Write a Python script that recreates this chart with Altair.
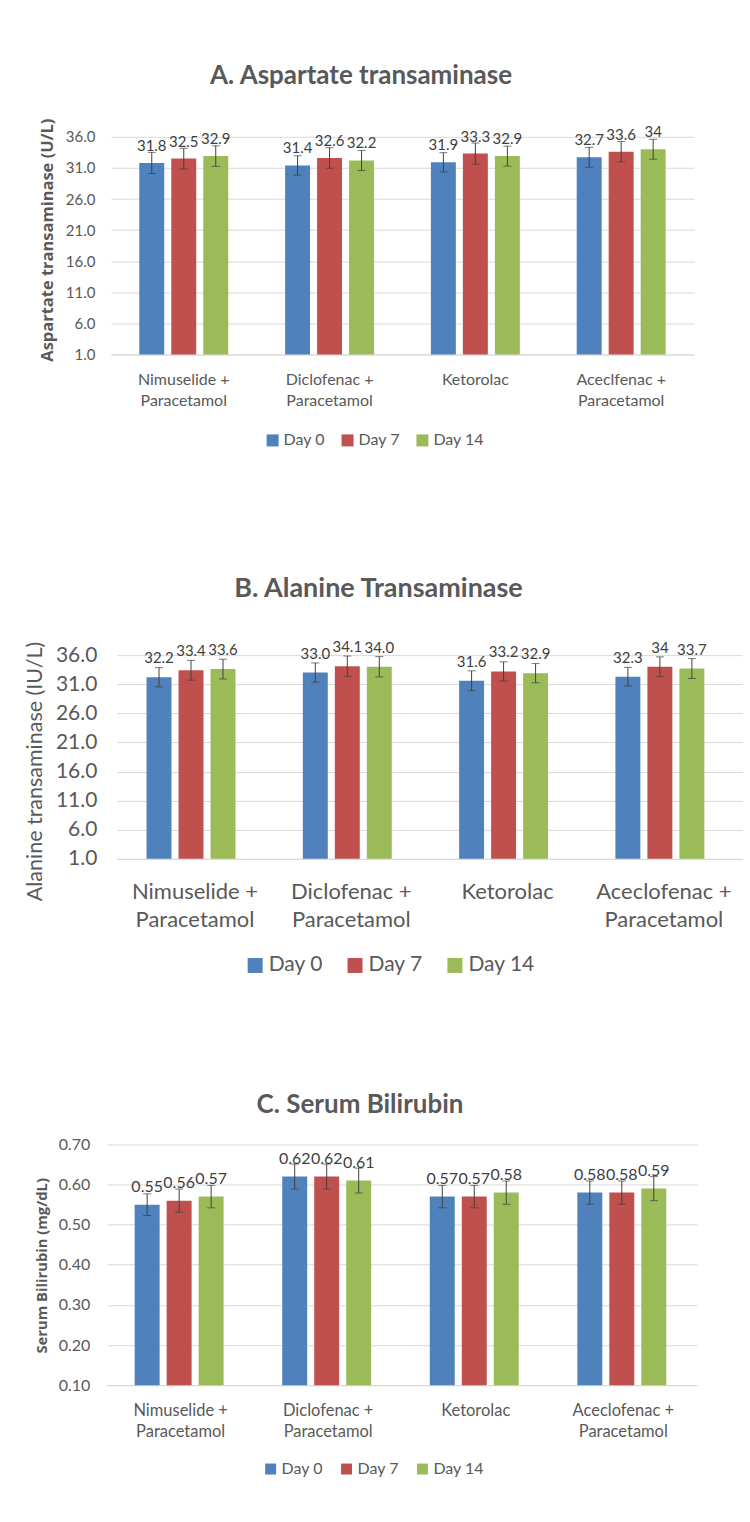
import altair as alt
import pandas as pd

DAYS = ["Day 0", "Day 7", "Day 14"]
DAY_COLORS = ["#4F81BD", "#C0504D", "#9BBB59"]

# A. Aspartate transaminase (U/L)
AST_GROUPS = ["Nimuselide + Paracetamol", "Diclofenac + Paracetamol", "Ketorolac", "Aceclfenac + Paracetamol"]
AST_DAY0 = ["31.8", "31.4", "31.9", "32.7"]
AST_DAY7 = ["32.5", "32.6", "33.3", "33.6"]
AST_DAY14 = ["32.9", "32.2", "32.9", "34"]
AST_ERR_DAY0 = [1.7, 1.55, 1.55, 1.6]
AST_ERR_DAY7 = [1.65, 1.65, 1.7, 1.65]
AST_ERR_DAY14 = [1.65, 1.6, 1.6, 1.6]
AST_TICKS = [1.0, 6.0, 11.0, 16.0, 21.0, 26.0, 31.0, 36.0]

# B. Alanine transaminase (IU/L)
ALT_GROUPS = ["Nimuselide + Paracetamol", "Diclofenac + Paracetamol", "Ketorolac", "Aceclofenac + Paracetamol"]
ALT_DAY0 = ["32.2", "33.0", "31.6", "32.3"]
ALT_DAY7 = ["33.4", "34.1", "33.2", "34"]
ALT_DAY14 = ["33.6", "34.0", "32.9", "33.7"]
ALT_ERR_DAY0 = [1.65, 1.65, 1.7, 1.6]
ALT_ERR_DAY7 = [1.7, 1.75, 1.65, 1.7]
ALT_ERR_DAY14 = [1.7, 1.75, 1.65, 1.7]
ALT_TICKS = [1.0, 6.0, 11.0, 16.0, 21.0, 26.0, 31.0, 36.0]

# C. Serum bilirubin (mg/dL)
BIL_GROUPS = ["Nimuselide + Paracetamol", "Diclofenac + Paracetamol", "Ketorolac", "Aceclofenac + Paracetamol"]
BIL_DAY0 = ["0.55", "0.62", "0.57", "0.58"]
BIL_DAY7 = ["0.56", "0.62", "0.57", "0.58"]
BIL_DAY14 = ["0.57", "0.61", "0.58", "0.59"]
BIL_ERR_DAY0 = [0.027, 0.031, 0.028, 0.029]
BIL_ERR_DAY7 = [0.029, 0.031, 0.028, 0.029]
BIL_ERR_DAY14 = [0.028, 0.031, 0.029, 0.030]
BIL_TICKS = [0.1, 0.2, 0.3, 0.4, 0.5, 0.6, 0.7]

FONT = "Lato"
TEXT_GREY = "#595959"
GRID_GREY = "#D9D9D9"
INK = "#404040"


def table(groups, series, errors):
    rows = []
    for day, labels, errs in zip(DAYS, series, errors):
        for g, lab, e in zip(groups, labels, errs):
            v = float(lab)
            rows.append(dict(group=g, day=day, label=lab, value=v, lo=v - e, hi=v + e))
    return pd.DataFrame(rows)


def panel(df, groups, ticks, fmt, title, ytitle, st):
    w, h, top = st["width"], st["height"], st["top"]
    x = alt.X(
        "group:N", sort=groups, title=None,
        scale=alt.Scale(range=st["xrange"], paddingInner=st["xpi"], paddingOuter=st["xpi"] / 2),
        axis=alt.Axis(
            labelAngle=0,
            labelExpr="split(replace(datum.label, ' + ', ' +|'), '|')",
            labelFont=FONT, labelFontSize=st["xlab"], labelLineHeight=st["xlh"],
            labelPadding=st["xpad"], labelColor=TEXT_GREY, labelBaseline="top",
            ticks=False, domainColor=GRID_GREY, domainWidth=1, grid=False,
        ),
    )
    xo = alt.XOffset("day:N", sort=DAYS,
                     scale=alt.Scale(paddingInner=st["opi"], paddingOuter=0))
    ysc = alt.Scale(domain=[ticks[0], ticks[-1]], range=[h + top, top], nice=False, zero=False)
    yax = alt.Axis(
        values=ticks, tickCount=len(ticks), format=fmt, title=ytitle, labelOverlap=False,
        titleFont=st["tfont"], titleFontSize=st["tsize"], titleFontWeight=st["tweight"],
        titleColor=TEXT_GREY, titleAngle=270, titleBaseline="middle", titleAlign="center",
        titleX=st["tx"], titleY=st["ty"],
        labelFont=FONT, labelFontSize=st["ylab"], labelColor=TEXT_GREY,
        labelPadding=st["ypad"], ticks=False, domain=False,
        grid=True, gridColor=GRID_GREY, gridWidth=1,
    )
    color = alt.Color(
        "day:N", sort=DAYS, scale=alt.Scale(domain=DAYS, range=DAY_COLORS),
        legend=alt.Legend(
            orient="none", legendX=st["lx"], legendY=st["ly"], direction="horizontal",
            title=None, symbolType="square", symbolSize=st["sym"], symbolStrokeWidth=0,
            labelFont=FONT, labelFontSize=st["leg"], labelColor=TEXT_GREY,
            labelOffset=3, columnPadding=st["colpad"],
        ),
    )
    base = alt.Chart(df)
    bars = base.mark_bar().encode(
        x=x, xOffset=xo,
        y=alt.Y("value:Q", scale=ysc, axis=yax, title=ytitle),
        y2=alt.datum(ticks[0]),
        color=color,
    )
    whisk = base.mark_rule(color=INK, strokeWidth=1).encode(
        x=x, xOffset=xo, y=alt.Y("lo:Q", title=ytitle), y2="hi:Q"
    )
    cap_lo = base.mark_tick(color=INK, thickness=1, size=st["cap"]).encode(
        x=x, xOffset=xo, y=alt.Y("lo:Q", title=ytitle)
    )
    cap_hi = base.mark_tick(color=INK, thickness=1, size=st["cap"]).encode(
        x=x, xOffset=xo, y=alt.Y("hi:Q", title=ytitle)
    )
    labels = base.mark_text(
        font=FONT, fontSize=st["vlab"], color=INK, baseline="middle", dy=-st["vdy"]
    ).encode(x=x, xOffset=xo, y=alt.Y("value:Q", title=ytitle), text="label:N")
    return alt.layer(bars, whisk, cap_lo, cap_hi, labels).properties(
        width=w, height=h + top,
        title=alt.TitleParams(
            text=title, font=FONT, fontSize=st["title"], fontWeight="bold", color=TEXT_GREY,
            anchor="middle", frame="bounds", offset=st["toff"], baseline="alphabetic",
            dx=st["tdx"],
        ),
    )


ast = panel(
    table(AST_GROUPS, [AST_DAY0, AST_DAY7, AST_DAY14], [AST_ERR_DAY0, AST_ERR_DAY7, AST_ERR_DAY14]),
    AST_GROUPS, AST_TICKS, ".1f", "A. Aspartate transaminase", "Aspartate transaminase (U/L)",
    dict(width=588, height=218, top=0, xrange=[4, 588], xpi=0.39, opi=0.22,
         xlab=16, xlh=21, xpad=17, ylab=15, ypad=12,
         tfont="Open Sans", tsize=16.5, tweight="bold", tx=-59, ty=103,
         lx=158, ly=296, sym=144, leg=16, colpad=14, cap=8, vlab=15, vdy=17,
         title=26, toff=8, tdx=-6),
)

alt_chart = panel(
    table(ALT_GROUPS, [ALT_DAY0, ALT_DAY7, ALT_DAY14], [ALT_ERR_DAY0, ALT_ERR_DAY7, ALT_ERR_DAY14]),
    ALT_GROUPS, ALT_TICKS, ".1f", "B. Alanine Transaminase", "Alanine transaminase (IU/L)",
    dict(width=636, height=204, top=15, xrange=[10, 636], xpi=0.38, opi=0.19,
         xlab=22, xlh=28, xpad=23, ylab=21, ypad=10,
         tfont=FONT, tsize=21.5, tweight="normal", tx=-71, ty=131,
         lx=138, ly=315, sym=225, leg=21, colpad=21, cap=8, vlab=15, vdy=19,
         title=27, toff=16, tdx=-5),
)

bil = panel(
    table(BIL_GROUPS, [BIL_DAY0, BIL_DAY7, BIL_DAY14], [BIL_ERR_DAY0, BIL_ERR_DAY7, BIL_ERR_DAY14]),
    BIL_GROUPS, BIL_TICKS, ".2f", "C. Serum Bilirubin", "Serum Bilirubin (mg/dL)",
    dict(width=591, height=241, top=0, xrange=[0, 591], xpi=0.377, opi=0.21,
         xlab=16.5, xlh=21, xpad=17, ylab=16, ypad=17,
         tfont="Open Sans", tsize=14.8, tweight="bold", tx=-64, ty=121,
         lx=156, ly=317, sym=121, leg=16, colpad=15, cap=8, vlab=16, vdy=18,
         title=26, toff=-2, tdx=-6),
)

chart = (
    alt.vconcat(ast, alt_chart, bil, spacing=286, bounds="flush")
    .resolve_scale(color="independent")
    .resolve_legend(color="independent")
    .properties(padding={"left": 24, "top": 62, "right": 8, "bottom": 20}, background="white")
    .configure_view(stroke=None)
)

chart.save("out.html", embed_options={"renderer": "svg", "actions": False})
